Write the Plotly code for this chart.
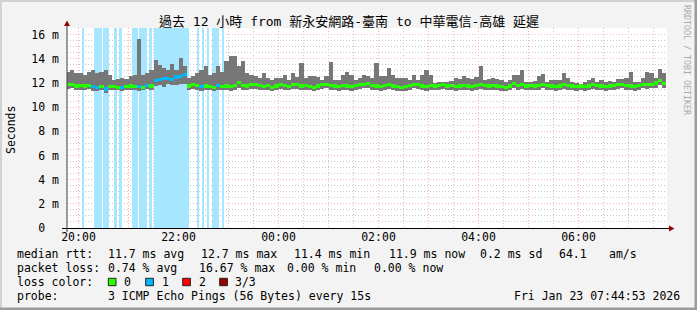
import plotly.graph_objects as go
import pandas as pd

# ---------------- data ----------------
start_time = "2026-01-22 19:45:00"
step_min = 5

smoke_max = [12.95, 13.1, 12.8, 12.85, 12.7, 12.95, 13.1, 12.8, 12.95, 13.1, 12.7, 12.25, 12.3, 12.4, 12.3, 12.6, 12.7, 15.6, 12.7, 12.8,
             13.1, 13.9, 13.5, 13.2, 13.1, 13.6, 13.1, 14.05, 13.4, 12.4, 12.6, 12.8, 13.1, 13.4, 12.7, 12.8, 13.4, 12.95, 13.85, 14.2,
             14.2, 13.4, 13.8, 12.8, 12.7, 12.54, 12.4, 12.8, 12.4, 12.26, 12.4, 12.4, 12.68, 12.26, 12.81, 12.5, 13.64, 12.4, 12.6, 12.6,
             12.5, 12.26, 12.54, 13.7, 12.26, 12.26, 12.68, 12.95, 12.68, 12.26, 12.4, 12.68, 12.54, 12.4, 13.64, 12.54, 12.54, 13.23, 12.68, 12.4,
             12.4, 12.4, 12.26, 12.68, 12.26, 12.68, 13.09, 12.68, 11.99, 12.12, 12.05, 12.12, 12.2, 12.4, 12.3, 12.6, 12.4, 12.3, 12.5, 13.37,
             12.26, 12.3, 12.4, 12.3, 12.26, 12.12, 12.26, 12.68, 12.68, 13.09, 12.12, 12.12, 12.2, 12.54, 12.76, 12.12, 12.26, 12.26, 12.26, 12.86,
             12.4, 12.05, 11.99, 11.9, 12.05, 12.26, 12.4, 12.12, 12.26, 12.05, 12.2, 12.12, 12.3, 12.3, 12.4, 12.95, 12.12, 12.12, 12.4, 12.9,
             12.8, 12.4, 13.15, 12.8]

smoke_min = [11.5, 11.55, 11.4, 11.45, 11.4, 11.5, 11.35, 11.3, 11.4, 11.2, 11.4, 11.45, 11.4, 11.3, 11.4, 11.45, 11.4, 11.35, 11.4, 11.5,
             11.45, 11.75, 11.8, 11.7, 11.9, 11.85, 11.8, 11.9, 11.95, 11.45, 11.5, 11.45, 11.35, 11.4, 11.4, 11.35, 11.45, 11.4, 11.4, 11.35,
             11.45, 11.6, 11.45, 11.4, 11.5, 11.5, 11.45, 11.4, 11.45, 11.35, 11.4, 11.5, 11.45, 11.4, 11.5, 11.5, 11.4, 11.45, 11.4, 11.35,
             11.4, 11.5, 11.55, 11.45, 11.4, 11.35, 11.45, 11.4, 11.35, 11.45, 11.5, 11.55, 11.6, 11.45, 11.4, 11.35, 11.45, 11.5, 11.4, 11.35,
             11.3, 11.35, 11.45, 11.55, 11.5, 11.4, 11.35, 11.45, 11.4, 11.45, 11.5, 11.4, 11.45, 11.35, 11.4, 11.45, 11.4, 11.35, 11.45, 11.5,
             11.45, 11.4, 11.45, 11.4, 11.35, 11.3, 11.4, 11.55, 11.45, 11.5, 11.4, 11.45, 11.4, 11.45, 11.55, 11.45, 11.4, 11.35, 11.4, 11.5,
             11.45, 11.4, 11.35, 11.4, 11.35, 11.4, 11.5, 11.45, 11.4, 11.35, 11.4, 11.45, 11.5, 11.55, 11.45, 11.4, 11.35, 11.45, 11.55, 11.5,
             11.55, 11.6, 11.8, 11.6]

median = [11.85, 11.9, 11.75, 11.8, 11.75, 11.8, 11.7, 11.65, 11.7, 11.5, 11.7, 11.7, 11.65, 11.6, 11.7, 11.75, 11.7, 11.7, 11.65, 11.8,
          11.75, 12.2, 12.3, 12.4, 12.35, 12.3, 12.5, 12.55, 12.7, 11.75, 11.85, 11.8, 11.7, 11.75, 11.7, 11.65, 11.8, 11.7, 11.75, 11.7,
          11.8, 12.05, 11.8, 11.75, 11.85, 11.9, 11.8, 11.7, 11.8, 11.65, 11.75, 11.85, 11.8, 11.7, 11.9, 11.85, 11.75, 11.8, 11.7, 11.65,
          11.75, 11.85, 11.9, 11.8, 11.75, 11.7, 11.8, 11.75, 11.7, 11.8, 11.85, 11.9, 11.95, 11.8, 11.75, 11.7, 11.8, 11.85, 11.75, 11.7,
          11.65, 11.7, 11.8, 11.9, 11.85, 11.75, 11.7, 11.8, 11.75, 11.8, 11.85, 11.75, 11.8, 11.7, 11.75, 11.8, 11.75, 11.7, 11.8, 11.85,
          11.8, 11.75, 11.8, 11.75, 11.7, 11.65, 11.75, 11.95, 11.8, 11.85, 11.75, 11.8, 11.75, 11.8, 11.9, 11.8, 11.75, 11.7, 11.75, 11.85,
          11.8, 11.75, 11.7, 11.75, 11.7, 11.75, 11.85, 11.8, 11.75, 11.7, 11.75, 11.8, 11.85, 11.9, 11.8, 11.75, 11.7, 11.8, 11.9, 11.85,
          11.9, 12.0, 12.2, 11.95]

loss = [0, 0, 0, 0, 0, 0, 1, 1, 0, 1, 0, 0, 0, 1, 0, 0, 0, 1, 0, 1,
        0, 1, 1, 1, 1, 1, 1, 1, 1, 0, 0, 0, 1, 0, 0, 0, 1, 0, 0, 0,
        0, 0, 0, 0, 0, 0, 0, 0, 0, 0, 0, 0, 0, 0, 0, 0, 0, 0, 0, 0,
        0, 0, 0, 0, 0, 0, 0, 0, 0, 0, 0, 0, 0, 0, 0, 0, 0, 0, 0, 0,
        0, 0, 0, 0, 0, 0, 0, 0, 0, 0, 0, 0, 0, 0, 0, 0, 0, 0, 0, 0,
        0, 0, 0, 0, 0, 0, 0, 0, 0, 0, 0, 0, 0, 0, 0, 0, 0, 0, 0, 0,
        0, 0, 0, 0, 0, 0, 0, 0, 0, 0, 0, 0, 0, 0, 0, 0, 0, 0, 0, 0,
        0, 0, 0, 0]

loss_band_start = ["2026-01-22 20:04", "2026-01-22 20:18", "2026-01-22 20:29", "2026-01-22 20:42", "2026-01-22 20:48",
                   "2026-01-22 21:04", "2026-01-22 21:12", "2026-01-22 21:24", "2026-01-22 21:30", "2026-01-22 22:22",
                   "2026-01-22 22:28", "2026-01-22 22:34", "2026-01-22 22:40", "2026-01-22 22:52"]
loss_band_end = ["2026-01-22 20:07", "2026-01-22 20:28", "2026-01-22 20:37", "2026-01-22 20:46", "2026-01-22 20:52",
                 "2026-01-22 21:11", "2026-01-22 21:22", "2026-01-22 21:28", "2026-01-22 22:13", "2026-01-22 22:25",
                 "2026-01-22 22:31", "2026-01-22 22:37", "2026-01-22 22:49", "2026-01-22 22:55"]

loss_colors = ["#26ff00", "#00b8ff", "#ff0000", "#990000"]
loss_labels = ["0", "1", "2", "3/3"]

y_tick_vals = [0, 2, 4, 6, 8, 10, 12, 14, 16]
y_tick_text = ["0\u00a0\u00a0", "2 m", "4 m", "6 m", "8 m", "10 m", "12 m", "14 m", "16 m"]
x_tick_text = ["20:00", "", "22:00", "", "00:00", "", "02:00", "", "04:00", "", "06:00", "", ""]

title_text = "過去 12 小時 from 新永安網路-臺南 to 中華電信-高雄 延遲"
rtt_stats = ["median rtt:", "11.7 ms avg", "12.7 ms max", "11.4 ms min", "11.9 ms now", "0.2 ms sd", "64.1", "am/s"]
loss_stats = ["packet loss:", "0.74 % avg", "16.67 % max", "0.00 % min", "0.00 % now"]
probe_text = ["probe:", "3 ICMP Echo Pings (56 Bytes) every 15s"]
stamp_text = "Fri Jan 23 07:44:53 2026"

# ---------------- geometry ----------------
W, H = 697, 310
L, R, T, B = 67, 667, 28, 228
YMAX = 16.55
x_range = ["2026-01-22 19:46:12", "2026-01-23 07:46:12"]


def px(x):
    return (x - L) / (R - L)


def py(y):
    return (B - y) / (B - T)


n = len(median)
assert len(smoke_max) == n and len(smoke_min) == n and len(loss) == n
t0 = pd.Timestamp(start_time)
step = pd.Timedelta(minutes=step_min)
centers = [t0 + step * i + step / 2 for i in range(n)]
bar_w = step.total_seconds() * 1000

MONO = "DejaVu Sans Mono"
FS = 11.5

fig = go.Figure()

# loss background bands
bs = pd.to_datetime(loss_band_start)
be = pd.to_datetime(loss_band_end)
fig.add_trace(go.Bar(
    x=[a + (b - a) / 2 for a, b in zip(bs, be)],
    y=[YMAX] * len(bs), base=0,
    width=[(b - a).total_seconds() * 1000 for a, b in zip(bs, be)],
    marker=dict(color="#a6e6ff", line=dict(width=0)),
    hoverinfo="skip"))

# smoke
fig.add_trace(go.Bar(
    x=centers, base=smoke_min, y=[mx - mn for mx, mn in zip(smoke_max, smoke_min)],
    width=bar_w, marker=dict(color="#777777", line=dict(width=0)), hoverinfo="skip"))

# median
MED_H = 0.26
fig.add_trace(go.Bar(
    x=centers, base=[m - MED_H / 2 for m in median], y=[MED_H] * n,
    width=bar_w, marker=dict(color=[loss_colors[l] for l in loss], line=dict(width=0)),
    hoverinfo="skip"))

hours = pd.date_range("2026-01-22 20:00", periods=len(x_tick_text), freq="h")

fig.update_layout(
    width=W, height=H,
    margin=dict(l=L, r=W - R, t=T, b=H - B, pad=0),
    paper_bgcolor="#f3f3f3", plot_bgcolor="#ffffff",
    barmode="overlay", bargap=0, showlegend=False,
    font=dict(family=MONO, size=FS, color="#000000"),
    xaxis=dict(
        type="date", range=x_range, tickmode="array", tickvals=list(hours), ticktext=x_tick_text,
        showgrid=True, gridcolor="#ffb0b0", griddash="1px,2px", gridwidth=1,
        ticks="",
        minor=dict(dtick=1800000, tick0="2026-01-22 19:30", showgrid=True, gridcolor="#c8c8c8",
                   griddash="1px,2px", ticks=""),
        showline=False, zeroline=False, tickfont=dict(family=MONO, size=FS),
        ticklabelstandoff=0, fixedrange=True),
    yaxis=dict(
        range=[0, YMAX], tickmode="array", tickvals=y_tick_vals, ticktext=y_tick_text,
        showgrid=True, gridcolor="#ffb0b0", griddash="1px,2px", gridwidth=1,
        minor=dict(dtick=0.5, tick0=0, showgrid=True, gridcolor="#c8c8c8", griddash="1px,2px", ticks=""),
        ticks="", showline=False, zeroline=False, tickfont=dict(family=MONO, size=FS),
        ticklabelstandoff=7, fixedrange=True),
)

ann = []


def text(x, y, s, anchor="left", size=FS, color="#000000", family=MONO, angle=0):
    ann.append(dict(x=px(x), y=py(y), xref="paper", yref="paper", text=s, showarrow=False,
                    xanchor=anchor, yanchor="middle", borderpad=0, textangle=angle,
                    font=dict(family=family, size=size, color=color)))


text(348.5, 21.5, title_text, anchor="center", size=13, family=MONO + ", Noto Sans CJK TC")
text(11, 130, "Seconds", anchor="center", angle=-90)
text(687, 60, "RRDTOOL / TOBI OETIKER", anchor="center", size=8.3, color="#aaaaaa", angle=90)

row1_x = [16, 107.3, 200, 293.3, 388, 479.3, 558.3, 607.7]
for s, x in zip(rtt_stats, row1_x):
    text(x, 254.3, s)
row2_x = [16, 107.3, 197.7, 286, 372.7]
for s, x in zip(loss_stats, row2_x):
    text(x, 268.3, s)
text(16, 282.3, "loss color:")
box_x = [108.3, 145.7, 182.7, 219.7]
lab_x = [123.3, 160.7, 197.7, 234.3]
shapes = []
for c, lab, bx, lx in zip(loss_colors, loss_labels, box_x, lab_x):
    text(lx, 282.3, lab)
    shapes.append(dict(type="rect", xref="paper", yref="paper", x0=px(bx), x1=px(bx + 7.7),
                       y0=py(285.7), y1=py(278.3), fillcolor=c, line=dict(color="#222222", width=1)))
text(16, 296.3, probe_text[0])
text(107.3, 296.3, probe_text[1])
text(680.5, 296.3, stamp_text, anchor="right")

# axes with arrows
shapes.append(dict(type="line", xref="paper", yref="paper", x0=px(62), x1=px(670), y0=py(228.5), y1=py(228.5),
                   line=dict(color="#000000", width=1), layer="above"))
shapes.append(dict(type="line", xref="paper", yref="paper", x0=px(67), x1=px(67), y0=py(232), y1=py(24),
                   line=dict(color="#404040", width=1), layer="above"))
shapes.append(dict(type="path", xref="paper", yref="paper",
                   path=f"M {px(669)} {py(225.5)} L {px(674.5)} {py(228.5)} L {px(669)} {py(231.5)} Z",
                   fillcolor="#990000", line=dict(width=0), layer="above"))
shapes.append(dict(type="path", xref="paper", yref="paper",
                   path=f"M {px(64)} {py(26)} L {px(67)} {py(20.5)} L {px(70)} {py(26)} Z",
                   fillcolor="#990000", line=dict(width=0), layer="above"))
# frame
shapes.append(dict(type="rect", xref="paper", yref="paper", x0=px(0), x1=px(697), y0=py(0), y1=py(2),
                   fillcolor="#d2d2d2", line=dict(width=0)))
shapes.append(dict(type="rect", xref="paper", yref="paper", x0=px(0), x1=px(2), y0=py(0), y1=py(310),
                   fillcolor="#d2d2d2", line=dict(width=0)))
shapes.append(dict(type="rect", xref="paper", yref="paper", x0=px(694.5), x1=px(697), y0=py(0), y1=py(310),
                   fillcolor="#9b9b9b", line=dict(width=0)))
shapes.append(dict(type="rect", xref="paper", yref="paper", x0=px(0), x1=px(697), y0=py(307.5), y1=py(310),
                   fillcolor="#9b9b9b", line=dict(width=0)))

fig.update_layout(annotations=ann, shapes=shapes)
fig.write_html("out.html")
